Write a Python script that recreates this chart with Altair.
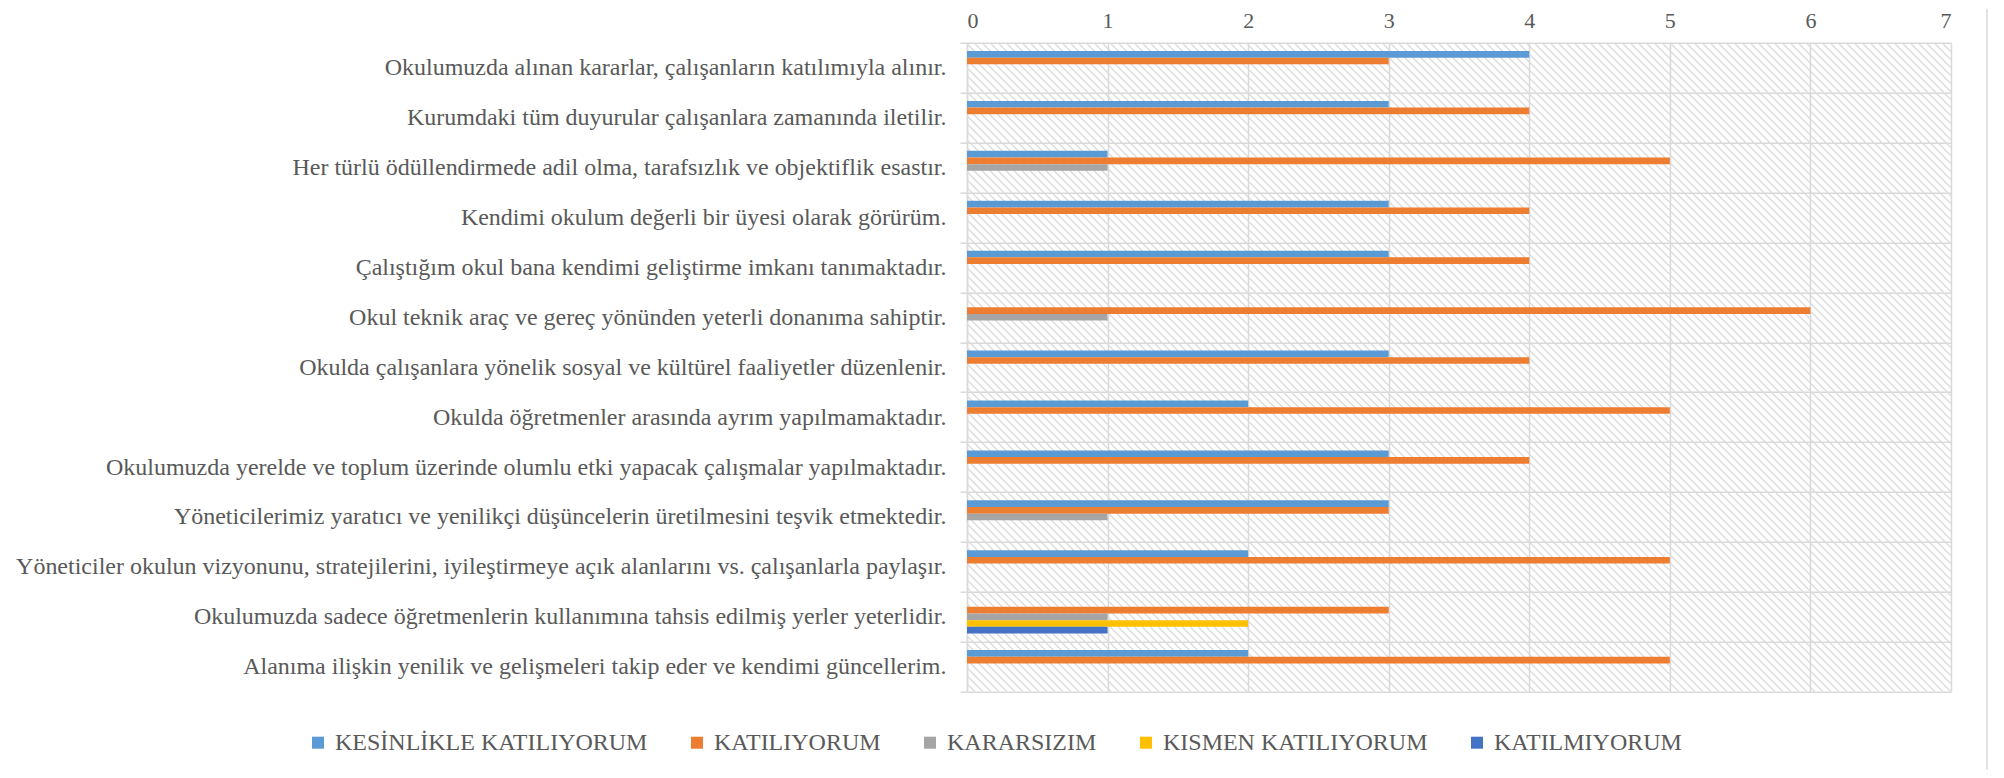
import altair as alt
import pandas as pd

categories = [
    "Okulumuzda alınan kararlar, çalışanların katılımıyla alınır.",
    "Kurumdaki tüm duyurular çalışanlara zamanında iletilir.",
    "Her türlü ödüllendirmede adil olma, tarafsızlık ve objektiflik esastır.",
    "Kendimi okulum değerli bir üyesi olarak görürüm.",
    "Çalıştığım okul bana kendimi geliştirme imkanı tanımaktadır.",
    "Okul teknik araç ve gereç yönünden yeterli donanıma sahiptir.",
    "Okulda çalışanlara yönelik sosyal ve kültürel faaliyetler düzenlenir.",
    "Okulda öğretmenler arasında ayrım yapılmamaktadır.",
    "Okulumuzda yerelde ve toplum üzerinde olumlu etki yapacak çalışmalar yapılmaktadır.",
    "Yöneticilerimiz yaratıcı ve yenilikçi düşüncelerin üretilmesini teşvik etmektedir.",
    "Yöneticiler okulun vizyonunu, stratejilerini, iyileştirmeye açık alanlarını vs. çalışanlarla paylaşır.",
    "Okulumuzda sadece öğretmenlerin kullanımına tahsis edilmiş yerler yeterlidir.",
    "Alanıma ilişkin yenilik ve gelişmeleri takip eder ve kendimi güncellerim.",
]

series_names = [
    "KESİNLİKLE KATILIYORUM",
    "KATILIYORUM",
    "KARARSIZIM",
    "KISMEN KATILIYORUM",
    "KATILMIYORUM",
]

kesinlikle_katiliyorum = [4, 3, 1, 3, 3, 0, 3, 2, 3, 3, 2, 0, 2]
katiliyorum = [3, 4, 5, 4, 4, 6, 4, 5, 4, 3, 5, 3, 5]
kararsizim = [0, 0, 1, 0, 0, 1, 0, 0, 0, 1, 0, 1, 0]
kismen_katiliyorum = [0, 0, 0, 0, 0, 0, 0, 0, 0, 0, 0, 2, 0]
katilmiyorum = [0, 0, 0, 0, 0, 0, 0, 0, 0, 0, 0, 1, 0]

colors = ["#5B9BD5", "#ED7D31", "#A5A5A5", "#FFC000", "#4472C4"]
x_ticks = [0, 1, 2, 3, 4, 5, 6, 7]

FONT = "Liberation Serif"
TEXT = "#595959"
GRID = "#d9d9d9"

W, H = 984, 649

rows = []
for name, vals in zip(series_names, [kesinlikle_katiliyorum, katiliyorum, kararsizim,
                                     kismen_katiliyorum, katilmiyorum]):
    for cat, v in zip(categories, vals):
        rows.append({"category": cat, "series": name, "value": v})
df = pd.DataFrame(rows)

# slot domain for the bars inside each category band (blank slots = gap width)
slot_domain = ["_gap_top"] + series_names + ["_gap_bottom"]

# decorative diagonal hatch of the plot background (pixel space)
step = 8
offsets = list(range(-H, W + step, step))
hatch_df = pd.DataFrame({
    "hx": offsets,
    "hx2": [c + H for c in offsets],
    "hy": [0] * len(offsets),
    "hy2": [H] * len(offsets),
})

hatch = alt.Chart(hatch_df).mark_rule(color="#dcdcdc", strokeWidth=1.4, clip=True).encode(
    x=alt.X("hx:Q", scale=alt.Scale(domain=[0, W], nice=False, zero=False), axis=None),
    x2="hx2:Q",
    y=alt.Y("hy:Q", scale=alt.Scale(domain=[0, H], nice=False, reverse=True), axis=None),
    y2="hy2:Q",
)

bars = alt.Chart(df).transform_filter("datum.value > 0").mark_bar().encode(
    y=alt.Y(
        "category:N",
        sort=categories,
        scale=alt.Scale(domain=categories, paddingInner=0, paddingOuter=0),
        axis=alt.Axis(
            title=None, tickBand="extent", grid=True, gridColor=GRID, gridWidth=1.5,
            ticks=True, tickSize=7, tickColor=GRID, tickWidth=1.5,
            domain=True, domainColor=GRID, domainWidth=1.5,
            labelFont=FONT, labelFontSize=24, labelColor=TEXT, labelPadding=14,
            labelLimit=1200,
        ),
    ),
    x=alt.X(
        "value:Q",
        scale=alt.Scale(domain=[0, 7], nice=False),
        axis=alt.Axis(
            orient="top", values=x_ticks, title=None, grid=True, gridColor=GRID, gridWidth=1.5,
            domain=False, ticks=False, tickSize=0, labelFont=FONT, labelFontSize=22,
            labelColor=TEXT, labelPadding=15, labelBaseline="alphabetic", format="d",
        ),
    ),
    yOffset=alt.YOffset("series:N", scale=alt.Scale(domain=slot_domain, paddingInner=0, paddingOuter=0.25)),
    color=alt.Color(
        "series:N",
        scale=alt.Scale(domain=series_names, range=colors),
        legend=alt.Legend(
            orient="none", legendX=-661, legendY=688, direction="horizontal", columns=5,
            title=None, symbolType="square", symbolSize=144, symbolStrokeWidth=0,
            labelFont=FONT, labelFontSize=24, labelColor=TEXT, labelOffset=5,
            columnPadding=37, labelLimit=1000,
        ),
    ),
)

border = alt.Chart(pd.DataFrame({"a": [0]})).mark_rule(color=GRID, strokeWidth=1.5).encode(
    x=alt.value(1020), y=alt.value(-34), y2=alt.value(727)
)

chart = alt.layer(hatch, bars, border).resolve_scale(
    x="independent", y="independent"
).properties(
    width=W, height=H,
    autosize=alt.AutoSizeParams(type="none"),
    padding={"left": 959, "top": 34.7, "right": 45, "bottom": 78},
).configure_view(stroke=None)

chart.save("out.html", embed_options={"renderer": "svg", "actions": False})
